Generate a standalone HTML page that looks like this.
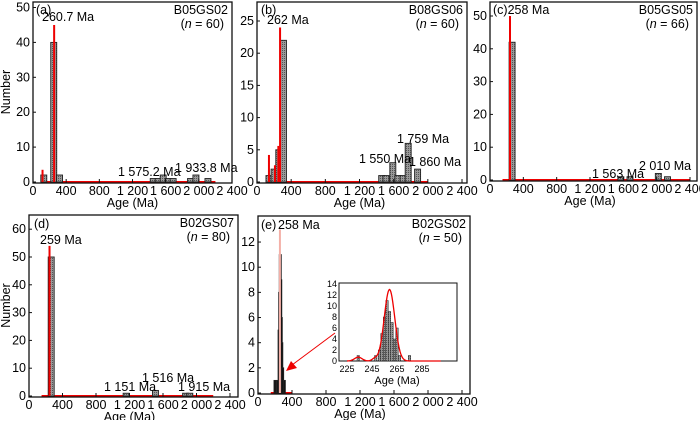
<!DOCTYPE html>
<html><head><meta charset="utf-8"><style>
body{margin:0;background:#fff;width:700px;height:420px;overflow:hidden}
svg{font-family:"Liberation Sans",Arial,sans-serif;font-size:12.5px}
</style></head><body>
<svg id="s" width="700" height="420" xmlns="http://www.w3.org/2000/svg">
<defs><pattern id="p" width="2" height="2" patternUnits="userSpaceOnUse"><rect width="2" height="2" fill="#999"/><rect width="1" height="1" fill="#555"/></pattern></defs>
</svg>
<script>
const S=document.getElementById('s');let h='';
function P(c){
 const X=m=>c.x0+m*(c.x1-c.x0)/2400, Y=v=>c.y0-v*c.py;
 h+=`<polyline points="${X(c.r0)},${c.y0} ${X(c.r1)},${c.y0}" stroke="#e00" stroke-width="2" fill="none"/>`;
 c.bars.forEach(b=>{const w=c.bw||6;h+=`<rect x="${X(b[0])-w/2}" y="${Y(b[1])}" width="${w}" height="${b[1]*c.py}" fill="${c.fill||'url(#p)'}" stroke="#222" stroke-width="0.9"/>`;});
 c.spikes.forEach(s=>{h+=`<line x1="${X(s[0])}" y1="${c.y0}" x2="${X(s[0])}" y2="${Y(s[1])}" stroke="${c.sc||'#e00'}" stroke-width="2"/>`;});
 h+=`<rect x="${c.x0}" y="${c.top}" width="${c.right-c.x0}" height="${c.y0+1-c.top}" fill="none" stroke="#111" stroke-width="1.3"/>`;
 for(let m=0;m<=2400;m+=400){h+=`<line x1="${X(m)}" y1="${c.y0+1}" x2="${X(m)}" y2="${c.y0-3}" stroke="#111"/>`;
  const t=m>=1000?String(m).replace(/^(\d)/,'$1 '):m;h+=`<text x="${X(m)}" y="${c.y0+13}" text-anchor="middle">${t}</text>`;}
 c.yt.forEach(v=>{h+=`<line x1="${c.x0}" y1="${Y(v)}" x2="${c.x0+3}" y2="${Y(v)}" stroke="#111"/><text x="${c.x0-3}" y="${Y(v)+4}" text-anchor="end">${v}</text>`;});
 h+=`<text x="${(c.x0+c.x1)/2}" y="${c.y0+25}" text-anchor="middle">Age (Ma)</text>`;
 if(c.ylab)h+=`<text transform="translate(${c.ylab},${(c.top+c.y0)/2}) rotate(-90)" text-anchor="middle">Number</text>`;
 h+=`<text x="${c.right-4}" y="${c.top+12}" text-anchor="end">${c.name}</text><text x="${c.right-8}" y="${c.top+26}" text-anchor="end">(<tspan font-style="italic">n</tspan> = ${c.n})</text>`;
 c.labs.forEach(l=>{h+=`<text x="${l[0]}" y="${l[1]}">${l[2]}</text>`;});
}
P({x0:33,x1:232,right:232,top:2,y0:182,py:3.49,r0:100,r1:2200,yt:[0,10,20,30,40,50],ylab:10,name:'B05GS02',n:60,
 bars:[[130,2],[250,40],[320,2],[1450,1],[1510,1],[1570,2],[1630,1],[1690,1],[1900,1],[1965,2],[2110,1]],
 spikes:[[115,3.5],[255,45]],labs:[[36,14,'(a)'],[42,21,'260.7 Ma'],[118,176,'1 575.2 Ma'],[175,172,'1 933.8 Ma']]});
P({x0:257,x1:462,right:467,top:2,y0:182,py:6.44,r0:100,r1:2000,yt:[0,5,10,15,20,25],name:'B08GS06',n:60,
 bars:[[140,1],[200,2],[255,5],[310,22],[1460,1],[1510,1],[1590,3],[1650,1],[1710,1],[1770,6],[1880,2]],
 spikes:[[140,4.2],[270,24],[250,5.6],[210,2.6]],labs:[[261,14,'(b)'],[267,24,'262 Ma'],[359,163,'1 550 Ma'],[397,143,'1 759 Ma'],[409,166,'1 860 Ma']]});
P({x0:490,x1:690,right:697,top:2,y0:180,py:3.28,r0:150,r1:2400,yt:[0,10,20,30,40,50],name:'B05GS05',n:66,
 bars:[[265,42],[1570,1],[1680,1],[2020,2],[2130,1]],
 spikes:[[240,50]],labs:[[493,14,'(c)258 Ma'],[592,178,'1 563 Ma'],[639,170,'2 010 Ma']]});
P({x0:29,x1:230,right:238,top:215,y0:396,py:2.78,r0:150,r1:2200,yt:[0,10,20,30,40,50,60],ylab:10,name:'B02GS07',n:80,
 bars:[[265,50],[1160,1],[1510,2],[1870,1],[1920,1]],
 spikes:[[245,54]],labs:[[34,228,'(d)'],[40,244,'259 Ma'],[104,391,'1 151 Ma'],[142,382,'1 516 Ma'],[178,391,'1 915 Ma']]});
P({x0:258,x1:462,right:470,top:216,y0:393,py:12.58,r0:150,r1:400,yt:[0,2,4,6,8,10,12],name:'B02GS02',n:50,bw:2,fill:'#111',sc:'#f4b0a8',
 bars:[[200,1],[230,1],[248,5],[255,8],[262,11],[268,9],[274,6],[280,4],[290,2],[310,1]],
 spikes:[[258,13]],labs:[[261,229,'(e)'],[278,229,'258 Ma']]});
const ix=m=>347+(m-225)*1.25, iy=v=>361-v*5.5;
let pts=[];for(let m=225;m<=300;m+=0.5){const v=13*Math.exp(-((m-259)**2)/(2*4.2**2))+0.7*Math.exp(-((m-234)**2)/(2*3**2))+0.4*Math.exp(-((m-247)**2)/8);pts.push(ix(m)+','+iy(v));}
h+=`<rect x="339" y="283" width="118" height="78" fill="#fff" stroke="#111"/>`;
[[234,1],[248,1],[251,2],[253,5],[255,8],[257,11],[259,9],[261,7],[263,4],[265,6],[267,1],[275,1]].forEach(b=>{h+=`<rect x="${ix(b[0])-1.2}" y="${iy(b[1])}" width="2.4" height="${b[1]*5.5}" fill="url(#p)" stroke="#222" stroke-width="0.5"/>`;});
h+=`<polyline points="${pts.join(' ')}" fill="none" stroke="#e00" stroke-width="1.3"/>`;
[0,2,4,6,8,10,12,14].forEach(v=>{h+=`<text x="337" y="${iy(v)+3}" text-anchor="end" font-size="9">${v}</text>`;});
[225,245,265,285].forEach(m=>{h+=`<text x="${ix(m)}" y="372" text-anchor="middle" font-size="9">${m}</text>`;});
h+=`<text x="397" y="384" text-anchor="middle" font-size="11">Age (Ma)</text>`;
h+=`<line x1="335" y1="333" x2="292" y2="365" stroke="#e00" stroke-width="1"/><polygon points="286,371 297,368 291,361" fill="#e00"/>`;
S.insertAdjacentHTML('beforeend',h);
</script>
</body></html>
